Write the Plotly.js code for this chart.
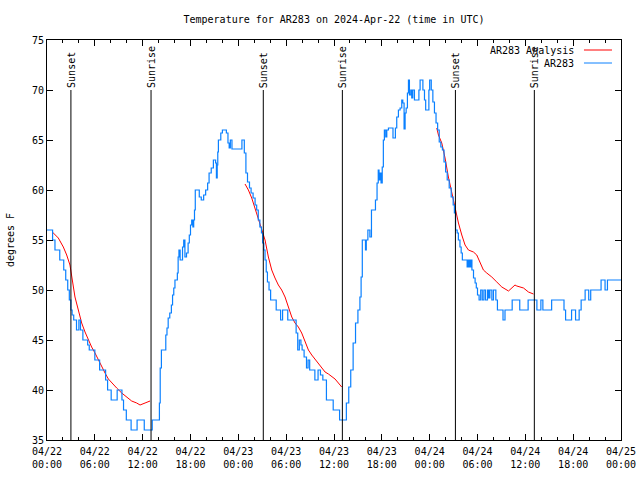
<!DOCTYPE html>
<html><head><meta charset="utf-8">
<script src="https://cdn.plot.ly/plotly-3.0.1.min.js"></script>
<style>body{margin:0;background:#fff}#chart{width:640px;height:480px}</style>
</head><body><div id="chart"></div>
<script>
// hours since 2024-04-22 00:00 UTC
const obsHours = [0,0.7,1.0,1.6,2.1,2.35,2.6,2.8,3.0,3.15,3.35,3.7,4.0,4.2,4.5,5.1,5.3,6.0,6.6,7.35,7.6,8.05,8.8,9.4,9.6,9.95,10.55,11.3,12.2,13.2,
  14.1,14.2,14.35,14.9,15.05,15.2,15.4,15.6,15.75,15.9,16.05,16.35,16.45,16.55,16.7,17.0,17.15,17.3,17.5,17.7,17.85,18.0,18.15,18.3,18.4,18.5,18.6,
  19.1,19.35,19.65,19.9,20.15,20.33,20.6,20.87,21.15,21.25,21.35,21.42,21.5,21.8,22.0,22.5,22.7,22.85,23.0,23.2,24.45,24.75,24.95,25.15,25.4,25.6,25.85,
  26.1,26.3,26.5,26.7,26.9,27.05,27.2,27.35,27.5,27.65,27.85,28.05,28.75,29.3,29.55,30.2,31.25,31.45,31.65,31.85,32.0,32.25,32.55,32.75,32.95,33.6,34.0,
  34.3,34.6,35.05,35.9,36.7,37.55,37.85,38.1,38.4,38.7,39.0,39.25,39.4,39.55,39.95,40.05,40.25,40.5,40.7,41.2,41.4,41.55,41.65,41.78,41.9,42.05,42.19,
  42.32,42.49,42.62,42.83,43.4,43.7,43.87,44.08,44.29,44.5,44.63,44.79,44.92,45.05,45.21,45.34,45.46,45.63,45.75,45.88,46.09,46.65,46.8,47.15,47.35,
  47.5,47.9,48.0,48.2,48.4,48.6,48.8,49.0,49.2,49.4,49.6,49.8,50.0,50.2,50.45,50.7,50.95,51.1,51.25,51.45,51.6,51.8,51.95,52.1,52.7,52.85,53.0,53.15,
  53.3,53.5,53.7,53.85,54.0,54.2,54.4,54.6,54.8,55.0,55.25,55.4,55.55,55.8,56.0,56.3,56.5,57.2,57.45,58.35,59.3,60.35,61.45,61.95,62.2,63.3,64.85,
  65.05,65.8,66.2,66.3,66.75,67.0,67.5,67.95,68.2,69.5,70.0,70.3,72];
const obsTemps = [56,55,54,53,52,51,50,49,48,47.5,47,46,47,46,45,44.5,44,43,42,41,40,39,40,39,38,37,36,37,36,37,
  38.7,42.2,44,45.5,46.2,47.2,47.7,48.5,49.5,50.2,51,51.7,53.3,54,53,54.3,55,53.3,53.7,54.7,55.5,56.5,57,56.3,57,58,60,
  59.3,59,59.5,60,60.7,61.7,62.2,63,62.7,61.2,62.5,63.8,65,65.7,66,65.7,64.7,64.2,65,64.1,65,63.7,61.7,60.8,60.2,59.7,59.2,
  58.5,58,57,56.3,55.7,54.7,54,53,51.8,50.8,50,49,48,47,48,47,45.7,44,45,44.5,44,43.3,42.2,43,42,41,42,
  41.5,41,39,38,37,38.7,40.3,42,44.7,46.7,48,49.3,51.3,55,54,55,56,55.3,58,59,60.7,62,61,61.7,60.7,62.3,65,
  66,65.3,66,66.2,65.2,66.2,67.3,68,68.2,69,68.7,66.1,67.7,68.2,69.7,71,69.5,70,69.2,70,69,70,71,70,69,
  68,70,71,70,68.8,67.7,66.7,66,64.8,64.3,64,62.8,61.8,61,60.2,59.3,58.5,57.7,56,55.7,55,54.3,53.7,53,52.3,53,52.3,53,
  52,51.2,50.7,50.2,49.5,49,50,49,50,49,50,49.2,50,49,50,49,48,47,48,49,48,49,48,49,48,49,48,
  47,48,48,47,48,49,50,49,50,51,50,51,51];

// analysis series (null separates the three runs)
const anaHours = [0.67,1.42,2.05,2.47,2.88,3.09,3.3,3.51,3.93,4.35,4.77,5.19,5.6,6.02,6.44,6.86,7.28,7.7,8.11,8.74,9.37,10.0,10.62,11.25,11.67,12.3,12.92,
  null,
  24.84,25.26,25.68,26.1,26.51,26.93,27.35,27.77,28.19,28.6,29.02,29.44,29.86,30.28,30.7,31.11,31.53,31.95,32.37,32.79,33.21,33.63,34.04,34.46,34.88,35.3,35.72,36.13,36.55,36.97,
  null,
  48.89,49.1,49.52,49.93,50.35,50.77,51.19,51.61,52.03,52.44,52.86,53.49,53.91,54.32,54.74,55.16,55.79,56.42,57.05,57.89,58.3,58.7,58.93,59.77,60.39,61.02];
const anaTemps = [55.8,55.2,54.3,53.5,52.5,51.5,50.5,49.3,48,46.7,45.8,45,44.3,43.7,43,42.3,41.7,41.1,40.7,40.2,39.7,39.3,38.9,38.7,38.5,38.7,38.9,
  null,
  60.6,60,59.2,58.2,57,56,55,53.3,52,51.2,50.5,50,49.3,48.3,47.3,46.7,46.3,45.7,44.8,44,43.5,43.1,42.7,42.2,41.8,41.6,41.3,41.1,40.7,40.3,
  null,
  66.2,65.5,64.7,63.2,61.3,59.7,58,56.7,55.5,54.5,54,53.8,53.5,52.7,52,51.7,51.3,50.8,50.3,49.9,50.2,50.5,50.4,50.2,49.8,49.6];

const sunsetHours = [3.0, 27.13, 51.23];
const sunriseHours = [13.05, 37.05, 61.13];
const sunLineTop = 70;

const tickHours = [0,6,12,18,24,30,36,42,48,54,60,66,72];
const tickLabels = ['04/22<br>00:00','04/22<br>06:00','04/22<br>12:00','04/22<br>18:00','04/23<br>00:00','04/23<br>06:00',
  '04/23<br>12:00','04/23<br>18:00','04/24<br>00:00','04/24<br>06:00','04/24<br>12:00','04/24<br>18:00','04/25<br>00:00'];

const seriesNames = ['AR283 Analysis','AR283'];
const seriesColors = ['#ff0000','#0a80ff'];

const FONT = {family:'DejaVu Sans Mono, Liberation Mono, monospace', size:10, color:'#000'};

const traces = [
  {x: anaHours, y: anaTemps, type:'scatter', mode:'lines', name: seriesNames[0], connectgaps:false,
   line:{color: seriesColors[0], width:1}, hoverinfo:'skip'},
  {x: obsHours, y: obsTemps, type:'scatter', mode:'lines', name: seriesNames[1],
   line:{color: seriesColors[1], width:1.2, shape:'hv'}, hoverinfo:'skip'}
];

const shapes = [];
const annotations = [];
const sunEvents = sunsetHours.map(h=>({h, label:'Sunset'})).concat(sunriseHours.map(h=>({h, label:'Sunrise'})));
sunEvents.forEach(ev=>{
  shapes.push({type:'line', xref:'x', yref:'y', x0:ev.h, x1:ev.h, y0:35, y1:sunLineTop, line:{color:'#000', width:1}});
  annotations.push({xref:'x', yref:'y', x:ev.h, y:sunLineTop, text:ev.label, textangle:-90, showarrow:false,
    xanchor:'center', yanchor:'bottom', font:FONT, borderpad:0, yshift:1});
});

// gnuplot-style key: text right-aligned, sample line to the right
const keyRows = [0.975, 0.9425];
seriesNames.forEach((nm,i)=>{
  annotations.push({xref:'paper', yref:'paper', x:0.92, y:keyRows[i], text:nm, showarrow:false,
    xanchor:'right', yanchor:'middle', font:FONT, borderpad:0});
  shapes.push({type:'line', xref:'paper', yref:'paper', x0:0.9355, x1:0.9843, y0:keyRows[i], y1:keyRows[i],
    line:{color:seriesColors[i], width:1}});
});

const layout = {
  width:640, height:480,
  margin:{l:47, r:19, t:40, b:40},
  paper_bgcolor:'#fff', plot_bgcolor:'#fff',
  font: FONT,
  showlegend:false,
  title:{text:'Temperature for AR283 on 2024-Apr-22 (time in UTC)', font:FONT, x:0.5, xref:'paper', xanchor:'center',
    y:1-19/480, yref:'container', yanchor:'middle'},
  xaxis:{range:[0,72], tickmode:'array', tickvals:tickHours, ticktext:tickLabels, showgrid:false, zeroline:false,
    showline:true, linecolor:'#000', linewidth:1, mirror:'ticks', ticks:'inside', ticklen:6, tickcolor:'#000', tickwidth:1,
    minor:{dtick:2, tick0:0, ticks:'inside', ticklen:3, tickcolor:'#000', showgrid:false},
    tickfont:FONT, ticklabelstandoff:2},
  yaxis:{range:[35,75], dtick:5, tick0:35, showgrid:false, zeroline:false,
    showline:true, linecolor:'#000', linewidth:1, mirror:'ticks', ticks:'inside', ticklen:6, tickcolor:'#000', tickwidth:1,
    tickfont:FONT, title:{text:'degrees F', font:FONT, standoff:15}},
  shapes, annotations
};

Plotly.newPlot('chart', traces, layout, {staticPlot:true, displayModeBar:false});
</script>
</body></html>
